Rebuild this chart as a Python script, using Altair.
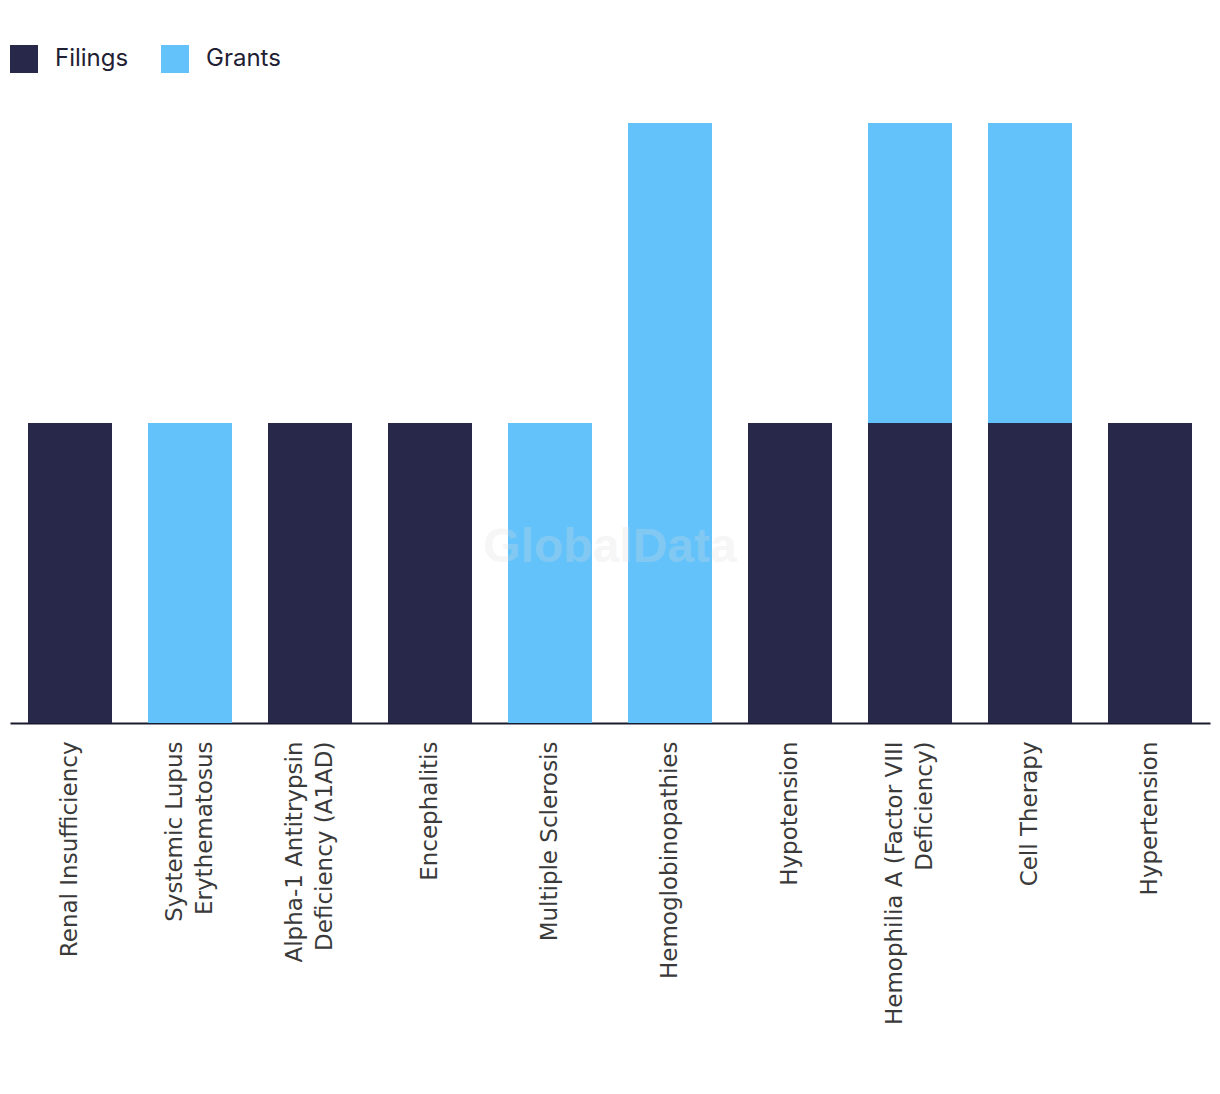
import altair as alt
import pandas as pd

categories = [
    "Renal Insufficiency",
    "Systemic Lupus Erythematosus",
    "Alpha-1 Antitrypsin Deficiency (A1AD)",
    "Encephalitis",
    "Multiple Sclerosis",
    "Hemoglobinopathies",
    "Hypotension",
    "Hemophilia A (Factor VIII Deficiency)",
    "Cell Therapy",
    "Hypertension",
]
filings = [1, 0, 1, 1, 0, 0, 1, 1, 1, 1]
grants = [0, 1, 0, 0, 1, 2, 0, 1, 1, 0]
series = ["Filings", "Grants"]
colors = ["#27284A", "#63C2FA"]

rows = []
for c, f, g in zip(categories, filings, grants):
    rows.append({"category": c, "type": "Filings", "value": f, "ord": 0})
    rows.append({"category": c, "type": "Grants", "value": g, "ord": 1})
df = pd.DataFrame(rows)

two_line = (
    "datum.value == 'Systemic Lupus Erythematosus' || "
    "datum.value == 'Alpha-1 Antitrypsin Deficiency (A1AD)' || "
    "datum.value == 'Hemophilia A (Factor VIII Deficiency)'"
)
label_expr = (
    "datum.value == 'Systemic Lupus Erythematosus' ? ['Systemic Lupus', 'Erythematosus'] : "
    "datum.value == 'Alpha-1 Antitrypsin Deficiency (A1AD)' ? ['Alpha-1 Antitrypsin', 'Deficiency (A1AD)'] : "
    "datum.value == 'Hemophilia A (Factor VIII Deficiency)' ? ['Hemophilia A (Factor VIII', 'Deficiency)'] : "
    "datum.value"
)

bars = alt.Chart(df).mark_bar().encode(
    x=alt.X(
        "category:N",
        sort=categories,
        scale=alt.Scale(paddingInner=0.3, paddingOuter=0.15),
        axis=alt.Axis(
            title=None,
            labelAngle=270,
            labelAlign="right",
            labelBaseline="middle",
            labelPadding=18,
            labelFontSize=23,
            labelFont="DejaVu Sans",
            labelColor="#3a3a3a",
            labelLineHeight=30,
            labelExpr=label_expr,
            labelOffset={"condition": {"test": two_line, "value": -15}, "value": 0},
            labelLimit=400,
            ticks=False,
            domain=True,
            domainColor="#1a1a2e",
            domainWidth=2,
        ),
    ),
    y=alt.Y(
        "value:Q",
        stack="zero",
        scale=alt.Scale(domain=[0, 2], nice=False),
        axis=None,
    ),
    color=alt.Color(
        "type:N",
        scale=alt.Scale(domain=series, range=colors),
        legend=alt.Legend(
            title=None,
            orient="none",
            legendX=0,
            legendY=-78,
            direction="horizontal",
            symbolType="square",
            symbolSize=784,
            symbolStrokeWidth=0,
            symbolOpacity=1,
            labelFontSize=24,
            labelFont="Inter",
            labelColor="#1f2033",
            labelOffset=17,
            columnPadding=32,
            padding=0,
        ),
    ),
    order=alt.Order("ord:Q"),
)

watermark = alt.Chart(pd.DataFrame({"t": ["GlobalData"]})).mark_text(
    fontSize=48,
    fontWeight="bold",
    font="Liberation Sans",
    color="#dddddd",
    opacity=0.25,
    align="center",
    baseline="middle",
).encode(text="t:N", x=alt.value(600), y=alt.value(425))

chart = (
    alt.layer(bars, watermark)
    .properties(
        width=1200,
        height=600,
        autosize=alt.AutoSizeParams(type="none"),
        padding={"left": 10, "top": 123, "right": 10, "bottom": 371},
    )
    .configure_view(stroke=None)
)

chart.save("out.html", embed_options={"renderer": "svg", "actions": False})
